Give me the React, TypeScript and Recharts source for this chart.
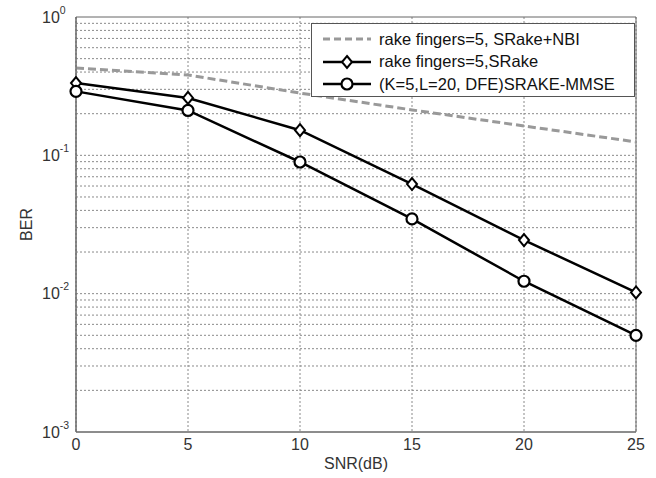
import { CartesianGrid, Legend, Line, LineChart, ReferenceArea, ReferenceLine, XAxis, YAxis } from 'recharts'

const snr = [0, 5, 10, 15, 20, 25]
const nbi = [0.428, 0.381, 0.282, 0.213, 0.163, 0.125]
const srake = [0.333, 0.26, 0.152, 0.062, 0.0244, 0.0102]
const mmse = [0.29, 0.211, 0.0895, 0.0347, 0.0123, 0.005]

const xTicks = [0, 5, 10, 15, 20, 25]
const yTicks = [0.001, 0.01, 0.1, 1]
const decades = [0.001, 0.01, 0.1]
const mantissas = [2, 3, 4, 5, 6, 7, 8, 9]

const seriesNames = {
  nbi: 'rake fingers=5, SRake+NBI',
  srake: 'rake fingers=5,SRake',
  mmse: '(K=5,L=20, DFE)SRAKE-MMSE',
}

const data = snr.map((s, i) => ({ snr: s, nbi: nbi[i], srake: srake[i], mmse: mmse[i] }))

// minor log grid: 2..9 inside each decade, plus the decade lines themselves
const gridValues = [
  ...decades.flatMap((d) => mantissas.map((m) => +(d * m).toPrecision(3))),
  0.01,
  0.1,
]

const FONT = '"Liberation Sans", Arial, sans-serif'
const AXIS = '#666'
const GRID = '#8a8a8a'

function YTick({ y, payload }: any) {
  const exp = Math.round(Math.log10(payload.value))
  return (
    <text x={42} y={y} dy="0.36em" fontFamily={FONT} fontSize={16} fill="#333">
      <tspan>10</tspan>
      <tspan dy={-9} fontSize={10.5}>
        {exp}
      </tspan>
    </text>
  )
}

function XTick({ x, y, payload }: any) {
  return (
    <text x={x} y={y + 12} dy="0.36em" textAnchor="middle" fontFamily={FONT} fontSize={16} fill="#333">
      {payload.value}
    </text>
  )
}

function Diamond({ cx, cy }: any) {
  if (cx == null || cy == null) return null
  return (
    <path
      d={`M${cx},${cy - 6}L${cx + 5},${cy}L${cx},${cy + 6}L${cx - 5},${cy}Z`}
      fill="#fff"
      stroke="#000"
      strokeWidth={2}
    />
  )
}

function Ring({ cx, cy }: any) {
  if (cx == null || cy == null) return null
  return <circle cx={cx} cy={cy} r={5.5} fill="#fff" stroke="#000" strokeWidth={2.2} />
}

function LegendBox() {
  const rows = [
    { name: seriesNames.nbi, kind: 'dash' },
    { name: seriesNames.srake, kind: 'diamond' },
    { name: seriesNames.mmse, kind: 'ring' },
  ]
  return (
    <div style={{ position: 'relative', width: 324, height: 74, border: '1px solid #555', background: '#fff', boxSizing: 'border-box' }}>
      {rows.map((r, i) => (
        <div
          key={r.name}
          style={{ position: 'absolute', left: 0, top: 4 + i * 22.5, height: 22, display: 'flex', alignItems: 'center' }}
        >
          <svg width={60} height={22} style={{ marginLeft: 10 }}>
            {r.kind === 'dash' ? (
              <line x1={1} x2={49} y1={11} y2={11} stroke="#999" strokeWidth={3} strokeDasharray="7 4" />
            ) : (
              <line x1={1} x2={49} y1={11} y2={11} stroke="#000" strokeWidth={2.5} />
            )}
            {r.kind === 'diamond' && <Diamond cx={25} cy={11} />}
            {r.kind === 'ring' && <Ring cx={25} cy={11} />}
          </svg>
          <span style={{ fontFamily: FONT, fontSize: 16.5, color: '#111', marginLeft: -3, whiteSpace: 'nowrap' }}>{r.name}</span>
        </div>
      ))}
    </div>
  )
}

export default function App() {
  return (
    <div style={{ position: 'absolute', left: 0, top: 0, width: 656, height: 478, background: '#fff' }}>
      <LineChart width={656} height={478} data={data} margin={{ top: 17, right: 20, bottom: 0, left: 0 }}>
        <CartesianGrid horizontal={false} stroke={GRID} strokeDasharray="2 2" />
        {gridValues.map((v) => (
          <ReferenceLine key={v} y={v} stroke={GRID} strokeDasharray="2 2" />
        ))}
        <XAxis
          dataKey="snr"
          type="number"
          domain={[0, 25]}
          ticks={xTicks}
          height={46}
          stroke={AXIS}
          tickLine={false}
          tickSize={0}
          tickMargin={0}
          tick={<XTick />}
          label={({ viewBox }: any) => (
            <text
              x={viewBox.x + viewBox.width / 2}
              y={viewBox.y + 31}
              dy="0.36em"
              textAnchor="middle"
              fontFamily={FONT}
              fontSize={16}
              fill="#333"
            >
              SNR(dB)
            </text>
          )}
        />
        <YAxis
          type="number"
          scale="log"
          domain={[0.001, 1]}
          ticks={yTicks}
          allowDataOverflow
          width={76}
          stroke={AXIS}
          tickLine={false}
          tickSize={0}
          tick={<YTick />}
          label={({ viewBox }: any) => (
            <text
              x={26}
              y={viewBox.y + viewBox.height / 2}
              textAnchor="middle"
              dominantBaseline="central"
              transform={`rotate(-90, 26, ${viewBox.y + viewBox.height / 2})`}
              fontFamily={FONT}
              fontSize={16}
              fill="#333"
            >
              BER
            </text>
          )}
        />
        <ReferenceArea x1={0} x2={25} y1={0.001} y2={1} fill="none" stroke={AXIS} strokeWidth={1} />
        <Line
          dataKey="nbi"
          name={seriesNames.nbi}
          stroke="#999"
          strokeWidth={3}
          strokeDasharray="8 4"
          dot={false}
          isAnimationActive={false}
        />
        <Line
          dataKey="srake"
          name={seriesNames.srake}
          stroke="#000"
          strokeWidth={2.5}
          dot={<Diamond />}
          isAnimationActive={false}
        />
        <Line
          dataKey="mmse"
          name={seriesNames.mmse}
          stroke="#000"
          strokeWidth={2.5}
          dot={<Ring />}
          isAnimationActive={false}
        />
        <Legend
          layout="vertical"
          align="center"
          verticalAlign="middle"
          content={() => <LegendBox />}
          wrapperStyle={{ position: 'absolute', left: 311, top: 23, width: 324, height: 74 }}
        />
      </LineChart>
    </div>
  )
}
